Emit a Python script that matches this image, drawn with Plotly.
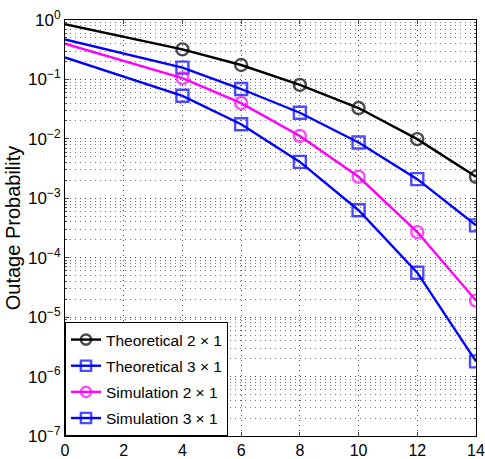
import plotly.graph_objects as go

x_vals = [0, 4, 6, 8, 10, 12, 14]
theo_2x1 = [0.85, 0.32, 0.175, 0.081, 0.033, 0.0099, 0.0023]
theo_3x1 = [0.47, 0.158, 0.069, 0.0275, 0.0087, 0.0021, 3.5e-4]
sim_2x1 = [0.40, 0.105, 0.040, 0.0112, 0.0023, 2.7e-4, 1.9e-5]
sim_3x1 = [0.235, 0.053, 0.0176, 0.0041, 6.3e-4, 5.6e-5, 1.8e-6]
names = ["Theoretical 2 × 1", "Theoretical 3 × 1", "Simulation 2 × 1", "Simulation 3 × 1"]
colors = ["#000000", "#0000ff", "#ff00ff", "#0000ff"]
symbols = ["circle-open", "square-open", "circle-open", "square-open"]
x_ticks = [0, 2, 4, 6, 8, 10, 12, 14]
y_tickvals = [1e-7, 1e-6, 1e-5, 1e-4, 1e-3, 1e-2, 1e-1, 1e0]
y_ticktext = ["10<sup>−7</sup>", "10<sup>−6</sup>", "10<sup>−5</sup>", "10<sup>−4</sup>",
              "10<sup>−3</sup>", "10<sup>−2</sup>", "10<sup>−1</sup>", "10<sup>0</sup>"]

fig = go.Figure()
for i, (ys, nm, c, s) in enumerate(zip([theo_2x1, theo_3x1, sim_2x1, sim_3x1], names, colors, symbols)):
    sizes = [0] + [12] * (len(x_vals) - 1)
    fig.add_trace(go.Scatter(
        x=x_vals, y=ys, name=nm, mode="lines+markers", legendgroup=f"g{i}",
        line=dict(color=c, width=2.4),
        marker=dict(symbol=s, size=sizes, color=c, line=dict(color=c, width=2.4)),
    ))

grid_dash = "1px,4px"
fig.update_layout(
    width=485, height=459,
    margin=dict(l=65, r=9, t=20, b=23, autoexpand=False),
    paper_bgcolor="white", plot_bgcolor="white",
    font=dict(family="Liberation Sans, Arial", color="black", size=16),
    showlegend=True,
    legend=dict(
        x=0, y=0, xanchor="left", yanchor="bottom",
        bgcolor="white", bordercolor="black", borderwidth=1,
        font=dict(size=15.5, family="Liberation Sans, Arial"),
        traceorder="grouped", tracegroupgap=3,
    ),
)
fig.update_xaxes(
    range=[0, 14], tickvals=x_ticks, ticks="inside", ticklen=4,
    showline=True, linecolor="black", linewidth=1, mirror="allticks",
    showgrid=True, gridcolor="#444444", griddash=grid_dash, gridwidth=1,
    tickfont=dict(size=16), zeroline=False, automargin=False,
)
fig.update_yaxes(
    type="log", range=[-7, 0], tickvals=y_tickvals, ticktext=y_ticktext,
    ticks="inside", ticklen=4,
    showline=True, linecolor="black", linewidth=1, mirror="allticks",
    showgrid=True, gridcolor="#444444", griddash=grid_dash, gridwidth=1,
    minor=dict(dtick="D1", showgrid=True, gridcolor="#777777", griddash=grid_dash, ticks="inside", ticklen=2),
    tickfont=dict(size=17), automargin=False,
    title=dict(text="Outage Probability", font=dict(size=20), standoff=2),
    zeroline=False,
)
fig.write_html(
    "out.html",
    config={"displayModeBar": False},
    post_script="document.body.style.margin='0';document.body.style.padding='0';",
)
